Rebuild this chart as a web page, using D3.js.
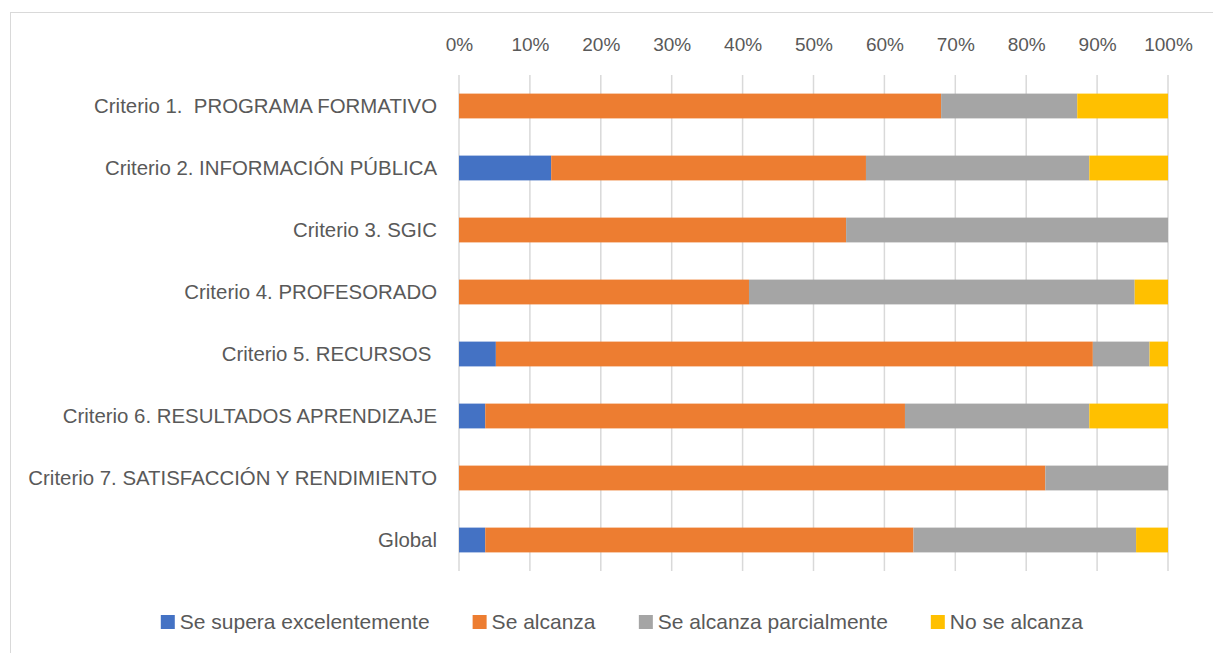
<!DOCTYPE html>
<html>
<head>
<meta charset="utf-8">
<script src="https://cdn.jsdelivr.net/npm/d3@7"></script>
<style>
  body { margin: 0; background: #fff; }
  svg { display: block; font-family: "Liberation Sans", Arial, sans-serif; }
</style>
</head>
<body>
<div id="chart"></div>
<script>
// categories (top to bottom)
const criterios = [
    "Criterio 1.  PROGRAMA FORMATIVO",
    "Criterio 2. INFORMACIÓN PÚBLICA",
    "Criterio 3. SGIC",
    "Criterio 4. PROFESORADO",
    "Criterio 5. RECURSOS ",
    "Criterio 6. RESULTADOS APRENDIZAJE",
    "Criterio 7. SATISFACCIÓN Y RENDIMIENTO",
    "Global"
];

// series, % of each row
const seSuperaExcelentemente = [0, 13.0, 0, 0, 5.2, 3.7, 0, 3.7];
const seAlcanza              = [68.0, 44.4, 54.6, 40.9, 84.2, 59.2, 82.7, 60.4];
const seAlcanzaParcialmente  = [19.2, 31.5, 45.4, 54.4, 8.0, 26.0, 17.3, 31.4];
const noSeAlcanza            = [12.8, 11.1, 0, 4.7, 2.6, 11.1, 0, 4.5];

const seriesNames  = ["Se supera excelentemente", "Se alcanza", "Se alcanza parcialmente", "No se alcanza"];
const seriesColors = ["#4472C4", "#ED7D31", "#A5A5A5", "#FFC000"];

const xTicks = [0, 0.1, 0.2, 0.3, 0.4, 0.5, 0.6, 0.7, 0.8, 0.9, 1];

const outerWidth = 1213, outerHeight = 653;
const margin = { top: 75, left: 459, right: 45, bottom: 82 };
const width = outerWidth - margin.left - margin.right;
const height = outerHeight - margin.top - margin.bottom;
const textColor = "#595959";

const svg = d3.select("#chart").append("svg")
    .attr("width", outerWidth)
    .attr("height", outerHeight);

// chart frame (right / bottom edges run off the picture)
svg.append("rect")
    .attr("x", 10.5).attr("y", 12.5)
    .attr("width", outerWidth + 20).attr("height", outerHeight + 20)
    .attr("fill", "none")
    .attr("stroke", "#D9D9D9")
    .attr("stroke-width", 1);

const g = svg.append("g")
    .attr("transform", `translate(${margin.left}, ${margin.top})`);

// build the table for d3.stack
const keys = ["exc", "alc", "par", "no"];
const table = criterios.map((c, i) => ({
    cat: c,
    exc: seSuperaExcelentemente[i] / 100,
    alc: seAlcanza[i] / 100,
    par: seAlcanzaParcialmente[i] / 100,
    no: noSeAlcanza[i] / 100
}));
const stacked = d3.stack().keys(keys)(table);

const x = d3.scaleLinear().domain([0, 1]).range([0, width]);
const y = d3.scaleBand().domain(criterios).range([0, height]).paddingInner(0.6).paddingOuter(0.3);

// gridlines
g.append("g")
    .selectAll("line")
    .data(xTicks)
    .join("line")
    .attr("x1", d => x(d)).attr("x2", d => x(d))
    .attr("y1", 0).attr("y2", height)
    .attr("stroke", "#D9D9D9")
    .attr("stroke-width", 1.5);

// top axis
const xAxis = d3.axisTop(x).tickValues(xTicks).tickFormat(d3.format(".0%")).tickSize(0).tickPadding(24);
const gx = g.append("g").call(xAxis);
gx.select(".domain").remove();
gx.selectAll("text")
    .attr("fill", textColor)
    .style("font-size", "19px");

// bars
g.append("g")
    .selectAll("g")
    .data(stacked)
    .join("g")
    .attr("fill", (d, i) => seriesColors[i])
    .selectAll("rect")
    .data(d => d)
    .join("rect")
    .attr("x", d => x(d[0]))
    .attr("y", d => y(d.data.cat))
    .attr("width", d => x(d[1]) - x(d[0]))
    .attr("height", y.bandwidth());

// category labels
const yAxis = d3.axisLeft(y).tickSize(0).tickPadding(22);
const gy = g.append("g").call(yAxis);
gy.select(".domain").remove();
gy.selectAll("text")
    .attr("fill", textColor)
    .style("font-size", "20.4px")
    .style("white-space", "pre");

// legend
const legend = svg.append("g");
const items = legend.selectAll("g")
    .data(seriesNames)
    .join("g");
items.append("rect")
    .attr("width", 14).attr("height", 14)
    .attr("y", -7)
    .attr("fill", (d, i) => seriesColors[i]);
items.append("text")
    .attr("x", 19)
    .attr("dy", "0.35em")
    .attr("fill", textColor)
    .style("font-size", "21px")
    .text(d => d);

let lx = 0;
items.each(function() {
    const w = this.getBBox().width;
    d3.select(this).attr("transform", `translate(${lx}, 0)`);
    lx += w + 43;
});
lx -= 43;
legend.attr("transform", `translate(${622 - lx / 2}, 622)`);
</script>
</body>
</html>
